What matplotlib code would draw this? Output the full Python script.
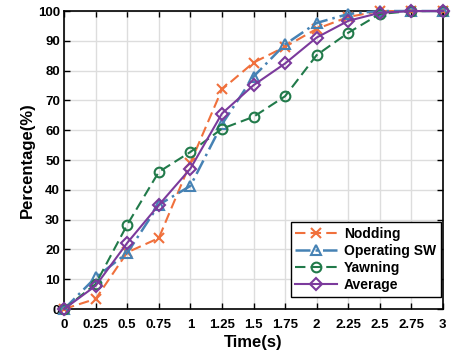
import matplotlib
matplotlib.use("Agg")
import matplotlib.pyplot as plt

plt.rcParams['font.family'] = ['Liberation Sans', 'DejaVu Sans']
plt.rcParams['font.weight'] = 'bold'

time = [0, 0.25, 0.5, 0.75, 1, 1.25, 1.5, 1.75, 2, 2.25, 2.5, 2.75, 3]
xtick_labels = ['0', '0.25', '0.5', '0.75', '1', '1.25', '1.5', '1.75', '2', '2.25', '2.5', '2.75', '3']
nodding = [0, 3.4, 19, 23.8, 49, 73.7, 82.7, 88, 94, 98, 100, 100, 100]
operating = [0, 10.6, 18.8, 35, 41.3, 62, 78, 88.8, 96, 99, 100, 100, 100]
yawning = [0, 8.4, 28.3, 46, 52.7, 60.5, 64.5, 71.4, 85.2, 92.7, 99, 100, 100]
average = [0, 7.8, 22.2, 34.9, 47.1, 65.6, 75.1, 82.4, 91.1, 96.7, 99.4, 100, 100]

fig = plt.figure(figsize=(4.58, 3.56), dpi=100)
ax = fig.add_axes([0.14, 0.132, 0.827, 0.837])

ax.plot(time, nodding, color='#f0703c', linestyle=(0, (5, 2.5)), marker='x', markersize=7,
        markeredgewidth=1.5, linewidth=1.5, label='Nodding', clip_on=False, zorder=3)
ax.plot(time, operating, color='#4682b4', linestyle=(0, (6, 2, 1, 2)), marker='^', markersize=7,
        markerfacecolor='none', markeredgewidth=1.5, linewidth=1.8, label='Operating SW',
        clip_on=False, zorder=3)
ax.plot(time, yawning, color='#217a4a', linestyle=(0, (5, 2.5)), marker='o', markersize=7,
        markerfacecolor='none', markeredgewidth=1.5, linewidth=1.5, label='Yawning',
        clip_on=False, zorder=3)
ax.plot(time, average, color='#7b3a9c', linestyle='-', marker='D', markersize=6,
        markerfacecolor='none', markeredgewidth=1.5, linewidth=1.5, label='Average',
        clip_on=False, zorder=3)

ax.set_xlim(0, 3)
ax.set_ylim(0, 100)
ax.set_xticks(time)
ax.set_xticklabels(xtick_labels)
ax.set_yticks(range(0, 101, 10))
ax.tick_params(direction='in', top=True, right=True, labelsize=9.5, length=4, width=1)
ax.tick_params(axis='x', pad=7)
ax.tick_params(axis='y', pad=3)
for lab in ax.get_xticklabels() + ax.get_yticklabels():
    lab.set_fontweight('bold')
ax.grid(True, color='#dddddd', linewidth=1)
ax.set_axisbelow(True)
for s in ax.spines.values():
    s.set_linewidth(1.2)
ax.set_xlabel('Time(s)', fontsize=12, fontweight='bold', labelpad=3)
ax.set_ylabel('Percentage(%)', fontsize=12, fontweight='bold', labelpad=2)

leg = ax.legend(loc='lower right', fontsize=10, frameon=True, fancybox=False,
                edgecolor='black', framealpha=1, borderpad=0.35, handlelength=3.0,
                handletextpad=0.5, labelspacing=0.22, borderaxespad=0,
                bbox_to_anchor=(0.995, 0.04))
leg.get_frame().set_linewidth(1)
leg.set_zorder(5)
for t in leg.get_texts():
    t.set_fontweight('bold')

fig.savefig('out.png', dpi=100)
